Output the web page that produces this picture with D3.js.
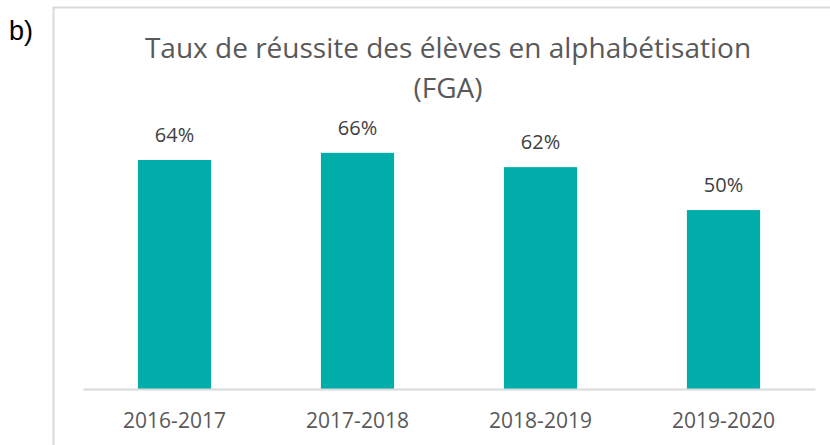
<!DOCTYPE html>
<html>
<head>
<meta charset="utf-8">
<script src="https://cdn.jsdelivr.net/npm/d3@7"></script>
<style>
  body { margin: 0; background: #fff; }
  text { font-family: "Open Sans", "Noto Sans", sans-serif; }
</style>
</head>
<body>
<div id="chart"></div>
<script>
var categories = ["2016-2017", "2017-2018", "2018-2019", "2019-2020"];
var values = [0.64, 0.66, 0.62, 0.50];
var titleLines = ["Taux de réussite des élèves en alphabétisation", "(FGA)"];

var width = 830, height = 445;
var plot = { left: 83, right: 815, top: 138.5, bottom: 389 };

var svg = d3.select('#chart')
  .append('svg')
  .attr('width', width)
  .attr('height', height);

// outer frame of the chart area
svg.append('rect')
  .attr('x', 53.5)
  .attr('y', 7.5)
  .attr('width', 800)
  .attr('height', 450)
  .attr('fill', 'none')
  .attr('stroke', '#d9d9d9')
  .attr('stroke-width', 2);

svg.append('text')
  .attr('x', 9)
  .attr('y', 40)
  .attr('font-size', 27)
  .attr('fill', '#000')
  .style('font-family', '"Liberation Sans", Arial, sans-serif')
  .text('b)');

// title
svg.selectAll('text.title')
  .data(titleLines)
  .enter().append('text')
  .attr('class', 'title')
  .attr('x', 448)
  .attr('y', function(d, i) { return 58 + i * 40; })
  .attr('text-anchor', 'middle')
  .attr('font-size', 28)
  .attr('fill', '#595959')
  .text(function(d) { return d; });

var x = d3.scaleBand()
  .domain(categories)
  .range([plot.left, plot.right])
  .paddingInner(0.6)
  .paddingOuter(0.3);

var y = d3.scaleLinear()
  .domain([0, 0.7])
  .range([plot.bottom, plot.top]);

// bars
svg.append('g')
  .selectAll('rect')
  .data(values)
  .enter().append('rect')
    .attr('x', function(d, i) { return x(categories[i]); })
    .attr('y', function(d) { return y(d); })
    .attr('width', x.bandwidth())
    .attr('height', function(d) { return y(0) - y(d); })
    .attr('fill', '#00ada9');

// value labels
svg.append('g')
  .selectAll('text')
  .data(values)
  .enter().append('text')
    .attr('x', function(d, i) { return x(categories[i]) + x.bandwidth() / 2; })
    .attr('y', function(d) { return y(d) - 18; })
    .attr('text-anchor', 'middle')
    .attr('font-size', 20)
    .attr('fill', '#404040')
    .text(function(d) { return d3.format('.0%')(d); });

// x axis
var xAxis = svg.append('g')
  .attr('transform', 'translate(0,' + plot.bottom + ')')
  .call(d3.axisBottom(x).tickSize(0).tickPadding(24));

xAxis.select('.domain')
  .attr('stroke', '#d9d9d9')
  .attr('stroke-width', 2);

xAxis.selectAll('text')
  .attr('font-size', 21)
  .attr('fill', '#595959')
  .style('font-family', '"Open Sans", "Noto Sans", sans-serif');
</script>
</body>
</html>
